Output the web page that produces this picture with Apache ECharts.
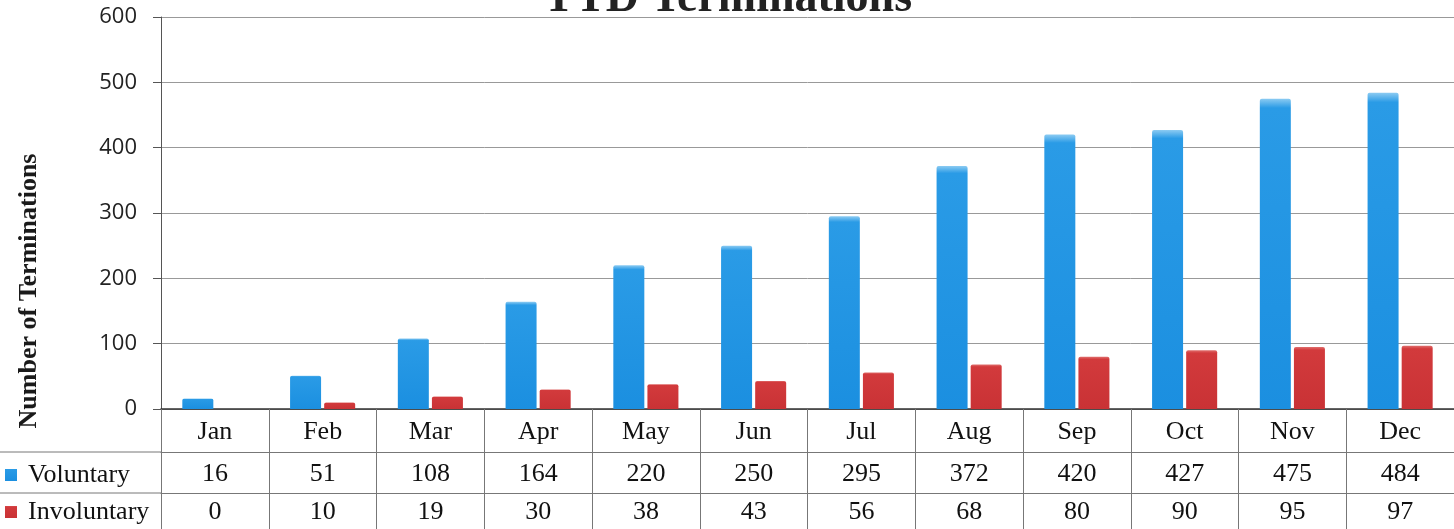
<!DOCTYPE html>
<html>
<head>
<meta charset="utf-8">
<script type="text/javascript" src="https://cdn.jsdelivr.net/npm/echarts@6/dist/echarts.min.js"></script>
<style type="text/css">
    * { margin: 0; padding: 0; }
    #container { width: 1454px; height: 529px; background: #fff; }
</style>
</head>
<body>
<div id="container"></div>
<script type="text/javascript">
var months = ['Jan', 'Feb', 'Mar', 'Apr', 'May', 'Jun', 'Jul', 'Aug', 'Sep', 'Oct', 'Nov', 'Dec'];
var voluntary = [16, 51, 108, 164, 220, 250, 295, 372, 420, 427, 475, 484];
var involuntary = [0, 10, 19, 30, 38, 43, 56, 68, 80, 90, 95, 97];
var seriesNames = ['Voluntary', 'Involuntary'];

var chart = echarts.init(document.getElementById('container'));

var serif = '"Liberation Serif", "Times New Roman", serif';
var lineCol = '#777';

// 柱子颜色，顶部稍亮
var blueFill = new echarts.graphic.LinearGradient(0, 0, 0, 1, [
    {offset: 0, color: '#8ccbf2'},
    {offset: 0.03, color: '#2a9be6'},
    {offset: 1, color: '#1b8fe0'}
]);
var redFill = new echarts.graphic.LinearGradient(0, 0, 0, 1, [
    {offset: 0, color: '#e0706e'},
    {offset: 0.05, color: '#d23a3c'},
    {offset: 1, color: '#c93235'}
]);

// 数据表的行（x轴叠放）
function tableAxis(offset, margin, values) {
    return {
        type: 'category',
        data: months,
        position: 'bottom',
        offset: offset,
        axisLine: {show: true, lineStyle: {color: lineCol, width: 1}},
        axisTick: {show: false},
        axisLabel: {
            margin: margin,
            fontFamily: serif,
            fontSize: 26,
            color: '#111',
            formatter: function (v, i) { return String(values[i]); }
        }
    };
}

var option = {
    animation: false,
    title: {
        text: 'YTD Terminations',
        left: 'center',
        top: -29,
        textStyle: {fontFamily: serif, fontWeight: 'bold', fontSize: 46, color: '#222'}
    },
    legend: {
        data: seriesNames,
        orient: 'vertical',
        left: 5,
        top: 462,
        padding: 0,
        itemGap: 11,
        itemWidth: 12,
        itemHeight: 12,
        icon: 'rect',
        textStyle: {fontFamily: serif, fontSize: 26, color: '#111', padding: [0, 0, 0, 6]}
    },
    grid: {left: 161, right: 0, top: 17, bottom: 120, containLabel: false},
    xAxis: [
        {
            type: 'category',
            data: months,
            position: 'bottom',
            axisLine: {show: true, lineStyle: {color: '#333', width: 1.5}},
            axisTick: {show: true, length: 122, lineStyle: {color: lineCol}},
            axisLabel: {margin: 10, fontFamily: serif, fontSize: 26, color: '#111'}
        },
        tableAxis(43, 9, voluntary),
        tableAxis(84, 6, involuntary)
    ],
    yAxis: {
        type: 'value',
        min: 0,
        max: 600,
        interval: 100,
        axisLine: {show: true, lineStyle: {color: '#555'}},
        axisTick: {show: true, length: 8, lineStyle: {color: '#555'}},
        axisLabel: {margin: 24, fontFamily: '"Open Sans", sans-serif', fontSize: 22, color: '#222'},
        splitLine: {lineStyle: {color: '#999', width: 1}}
    },
    graphic: [
        {
            type: 'text',
            x: 29, y: 291,
            rotation: Math.PI / 2,
            style: {
                text: 'Number of Terminations',
                font: 'bold 26px ' + serif,
                fill: '#1a1a1a',
                align: 'center',
                verticalAlign: 'middle'
            }
        },
        // 表格左侧的横线
        {type: 'line', shape: {x1: 0, y1: 452, x2: 161, y2: 452}, style: {stroke: lineCol, lineWidth: 1}},
        {type: 'line', shape: {x1: 0, y1: 493, x2: 161, y2: 493}, style: {stroke: lineCol, lineWidth: 1}}
    ],
    series: [
        {
            name: seriesNames[0],
            type: 'bar',
            data: voluntary,
            barWidth: 31,
            barGap: '10%',
            itemStyle: {color: blueFill, borderRadius: [2, 2, 0, 0]}
        },
        {
            name: seriesNames[1],
            type: 'bar',
            data: involuntary,
            barWidth: 31,
            itemStyle: {color: redFill, borderRadius: [2, 2, 0, 0]}
        }
    ]
};

chart.setOption(option);
</script>
</body>
</html>
